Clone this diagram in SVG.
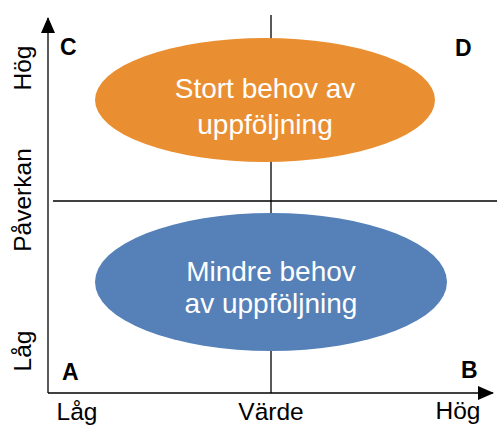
<svg xmlns="http://www.w3.org/2000/svg" width="497" height="425" viewBox="0 0 497 425">
<style>
.ax{stroke:#000;stroke-width:1.3;fill:none}
.t{font-family:"Liberation Sans",Arial,sans-serif;fill:#000}
.lbl{font-size:24.5px}
.cor{font-size:23px;font-weight:bold}
.in{font-family:"Liberation Sans",Arial,sans-serif;fill:#fff;font-size:28px;text-anchor:middle}
</style>
<defs>
<marker id="ah" viewBox="0 0 10 10" refX="9" refY="5" markerWidth="10" markerHeight="10" markerUnits="userSpaceOnUse" orient="auto" overflow="visible">
<path d="M-6,-2 L10,5 L-6,12 Z" fill="#000"/>
</marker>
</defs>
<rect width="497" height="425" fill="#fff"/>
<g id="connectors">
<line class="ax" x1="271" y1="15" x2="271" y2="393"/>
<line class="ax" x1="53" y1="201" x2="497" y2="201"/>
<line class="ax" x1="48" y1="393" x2="48" y2="18" marker-end="url(#ah)"/>
<line class="ax" x1="48" y1="393" x2="493" y2="393" marker-end="url(#ah)"/>
</g>
<g id="node-high">
<ellipse cx="265" cy="100" rx="170" ry="62" fill="#EA8F31"/>
<text class="in" x="265" y="98">Stort behov av</text>
<text class="in" x="265" y="134">uppföljning</text>
</g>
<g id="node-low">
<ellipse cx="271" cy="282" rx="176" ry="69" fill="#5581B8"/>
<text class="in" x="271" y="281">Mindre behov</text>
<text class="in" x="271" y="313">av uppföljning</text>
</g>
<g id="corners">
<text class="t cor" x="60" y="55">C</text>
<text class="t cor" x="455" y="56">D</text>
<text class="t cor" x="62" y="380">A</text>
<text class="t cor" x="461" y="378">B</text>
</g>
<g id="axis-labels">
<text class="t lbl" text-anchor="middle" transform="translate(31,68) rotate(-90)">Hög</text>
<text class="t lbl" text-anchor="middle" transform="translate(31,200) rotate(-90)">Påverkan</text>
<text class="t lbl" text-anchor="middle" transform="translate(31,351) rotate(-90)">Låg</text>
<text class="t lbl" text-anchor="middle" x="77" y="420">Låg</text>
<text class="t lbl" text-anchor="middle" x="271" y="420">Värde</text>
<text class="t lbl" text-anchor="middle" x="458" y="419">Hög</text>
</g>
</svg>
